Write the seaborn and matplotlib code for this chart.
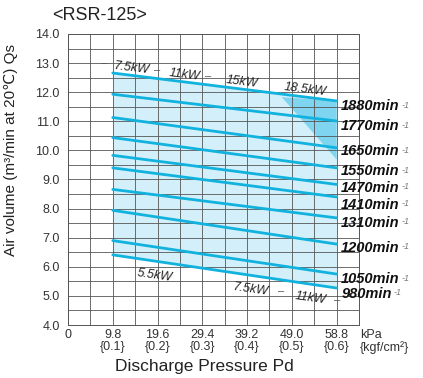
import numpy as np
import pandas as pd
import matplotlib
matplotlib.use('Agg')
import matplotlib.pyplot as plt
import seaborn as sns

# RSR-125 air volume vs discharge pressure
speeds = [1880, 1770, 1650, 1550, 1470, 1410, 1310, 1200, 1050, 980]
pressure_range = [9.8, 58.8]
q_start = [12.66, 11.93, 11.13, 10.44, 9.83, 9.40, 8.66, 7.94, 6.90, 6.41]
q_end = [11.70, 11.01, 10.09, 9.40, 8.83, 8.40, 7.68, 6.78, 5.75, 5.27]

x_ticks = [0, 9.8, 19.6, 29.4, 39.2, 49.0, 58.8]
x_tick_labels = ['0', '9.8\n{0.1}', '19.6\n{0.2}', '29.4\n{0.3}', '39.2\n{0.4}',
                 '49.0\n{0.5}', '58.8\n{0.6}']
y_ticks = [4.0, 5.0, 6.0, 7.0, 8.0, 9.0, 10.0, 11.0, 12.0, 13.0, 14.0]

# vertical placement of the speed labels on the right (spread like the original)
speed_label_y = [11.52, 10.83, 9.97, 9.28, 8.72, 8.14, 7.52, 6.66, 5.57, 5.07]

# motor power labels along the upper and lower limit lines
top_kw = ['7.5kW', '11kW', '15kW', '18.5kW']
top_kw_x = [14.0, 25.5, 38.1, 52.0]
bottom_kw = ['5.5kW', '7.5kW', '11kW']
bottom_kw_x = [19.0, 40.1, 53.1]
# little leader dashes between the power labels
top_dash_x = [7.9, 19.6, 30.6]
bottom_dash_x = [46.6, 58.9]

# darker shaded corner (top right)
corner_x = [46.8, 58.8, 58.8]
corner_y = [11.83, 11.70, 9.69]

line_color = '#12b2de'
fill_color = '#d3f0fa'
corner_color = '#7fd5f0'
text_color = '#333333'

sns.set_theme(style='white')
plt.rcParams['font.family'] = ['Liberation Sans', 'DejaVu Sans']
plt.rcParams['axes.axisbelow'] = 'line'

df = pd.DataFrame({
    'speed': np.repeat(speeds, 2),
    'pressure': pressure_range * len(speeds),
    'flow': np.ravel(np.column_stack([q_start, q_end])),
})

fig = plt.figure(figsize=(4.23, 3.78), dpi=100)
ax = fig.add_axes([68 / 423, 1 - 325 / 378, 291 / 423, 291 / 378])

# shaded operating range between slowest and fastest speed
ax.fill_between(pressure_range, [q_start[-1], q_end[-1]], [q_start[0], q_end[0]],
                color=fill_color, lw=0, zorder=1)
ax.fill(corner_x, corner_y, color=corner_color, lw=0, zorder=1.1)

sns.lineplot(data=df, x='pressure', y='flow', hue='speed', units='speed',
             estimator=None, palette=[line_color] * len(speeds), legend=False,
             lw=2, ax=ax, zorder=3)

ax.set_xlim(0, 63.7)
ax.set_ylim(4, 14)
ax.set_xticks(x_ticks)
ax.set_xticklabels(x_tick_labels, fontsize=9, color=text_color, linespacing=0.95)
ax.set_yticks(y_ticks)
ax.set_yticklabels([f'{v:.1f}' for v in y_ticks], fontsize=9, color=text_color)
ax.set_xticks(np.arange(0, 63.8, 4.9), minor=True)
ax.set_yticks(np.arange(4, 14.01, 0.5), minor=True)
ax.tick_params(which='both', length=0, pad=3)
ax.tick_params(axis='y', pad=6)
ax.grid(True, which='both', color='#555555', lw=0.6)
for s in ax.spines.values():
    s.set_color('#555555')
    s.set_linewidth(0.7)

ax.set_xlabel('Discharge Pressure Pd', fontsize=12.5, color='#222222')
ax.xaxis.set_label_coords(0.467, -0.118)
ax.set_ylabel('Air volume (m³/min at 20℃) Qs', fontsize=11, color='#222222')
ax.yaxis.set_label_coords(-0.172, 0.6)

ax.annotate('kPa\n{kgf/cm²}', xy=(63.9, 0), xycoords=('data', 'axes fraction'),
            xytext=(0, -3), textcoords='offset points', ha='left', va='top',
            fontsize=9, color=text_color, linespacing=0.95, annotation_clip=False)

# speed labels at the right end of every line, with a small grey "-1" exponent
for sp, y in zip(speeds, speed_label_y):
    t = ax.text(59.8, y, f'{sp}min', fontsize=10.5, fontweight='bold',
                fontstyle='italic', color='#111111', ha='left', va='center', zorder=4)
    ax.annotate('-1', xy=(1, 1), xycoords=t, xytext=(1.5, -1),
                textcoords='offset points', ha='left', va='top', fontsize=6.5,
                fontstyle='italic', color='#777777', annotation_clip=False)

slope_top = (q_end[0] - q_start[0]) / (pressure_range[1] - pressure_range[0])
slope_bot = (q_end[-1] - q_start[-1]) / (pressure_range[1] - pressure_range[0])
for lab, x in zip(top_kw, top_kw_x):
    y = q_start[0] + slope_top * (x - pressure_range[0]) + 0.25
    ax.text(x, y, lab, fontsize=9, fontstyle='italic', color='#222222',
            ha='center', va='center', rotation=-7, zorder=4)
for x in top_dash_x:
    y = q_start[0] + slope_top * (x - pressure_range[0]) + 0.3
    ax.text(x, y, '–', fontsize=8, color='#555555', ha='center', va='center', zorder=4)
for lab, x in zip(bottom_kw, bottom_kw_x):
    y = q_start[-1] + slope_bot * (x - pressure_range[0]) - 0.48
    ax.text(x, y, lab, fontsize=9, fontstyle='italic', color='#222222',
            ha='center', va='center', rotation=-8, zorder=4)
for x in bottom_dash_x:
    y = q_start[-1] + slope_bot * (x - pressure_range[0]) - 0.4
    ax.text(x, y, '–', fontsize=8, color='#555555', ha='center', va='center', zorder=4)

fig.text(52 / 423, 1 - 15 / 378, '<RSR-125>', fontsize=13, color='#222222',
         ha='left', va='center')

fig.savefig('out.png', dpi=100)
